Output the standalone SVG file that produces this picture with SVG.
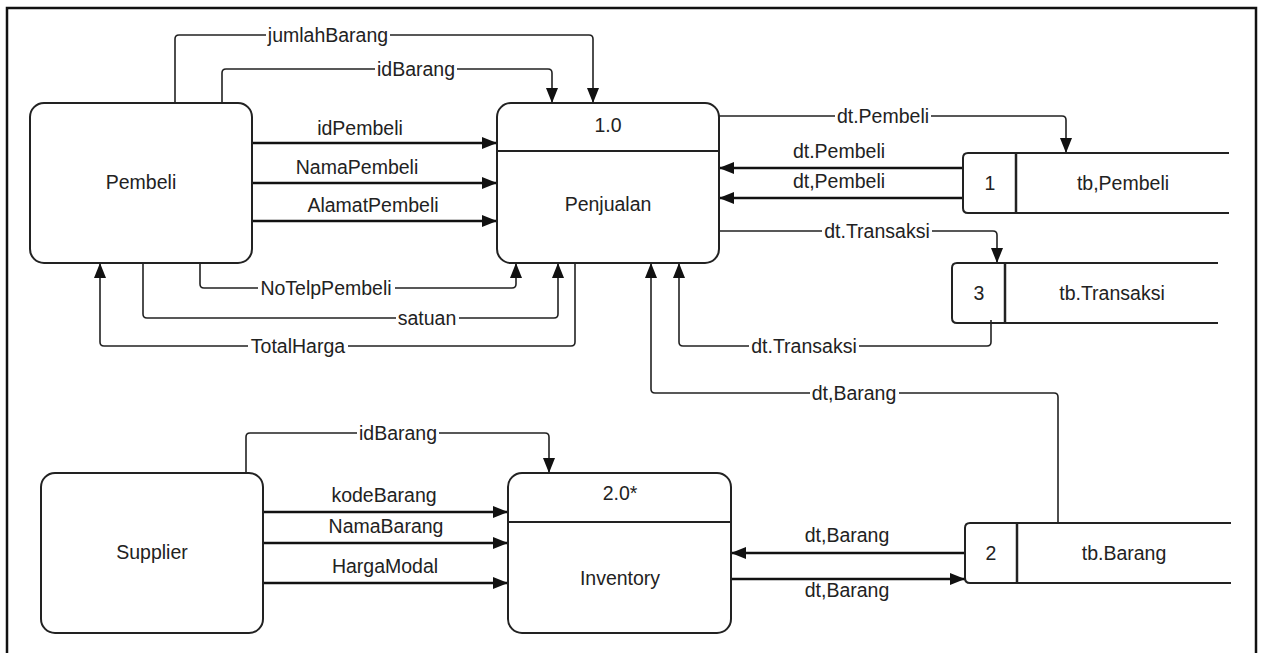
<svg xmlns="http://www.w3.org/2000/svg" width="1261" height="653" viewBox="0 0 1261 653">
<defs>
<style>
text{font-family:"Liberation Sans",Arial,sans-serif;font-size:19.5px;fill:#222;text-anchor:middle}
.bg{fill:#fff;stroke:none}
.box{fill:#fff;stroke:#222;stroke-width:2}
.div{stroke:#222;stroke-width:2}
.store{fill:none;stroke:#222;stroke-width:2}
.sdiv{stroke:#222;stroke-width:2.5}
.thin{fill:none;stroke:#222;stroke-width:1.6;stroke-linejoin:round}
.thick{fill:none;stroke:#111;stroke-width:2.6}
</style>
<marker id="ah" viewBox="0 0 15 12" refX="15" refY="6" markerWidth="15" markerHeight="12" markerUnits="userSpaceOnUse" orient="auto">
<path d="M0,0 L15,6 L0,12 Z" fill="#111"/>
</marker>
</defs>
<rect x="0" y="0" width="1261" height="653" fill="#fff"/>
<rect x="7" y="8" width="1249" height="670" fill="none" stroke="#111" stroke-width="2.5"/>

<g id="connectors">
<path class="thin" d="M175,103 V39 Q175,35 179,35 H589 Q593,35 593,39 V103" marker-end="url(#ah)"/>
<path class="thin" d="M222,103 V73 Q222,69 226,69 H548 Q552,69 552,73 V103" marker-end="url(#ah)"/>
<path class="thick" d="M252,143 H497" marker-end="url(#ah)"/>
<path class="thick" d="M252,183 H497" marker-end="url(#ah)"/>
<path class="thick" d="M252,221 H497" marker-end="url(#ah)"/>
<path class="thin" d="M200,263 V284 Q200,288 204,288 H512 Q516,288 516,284 V263" marker-end="url(#ah)"/>
<path class="thin" d="M143,263 V314 Q143,318 147,318 H554 Q558,318 558,314 V263" marker-end="url(#ah)"/>
<path class="thin" d="M575,263 V342 Q575,346 571,346 H104 Q100,346 100,342 V263" marker-end="url(#ah)"/>
<path class="thin" d="M719,116 H1062 Q1066,116 1066,120 V153" marker-end="url(#ah)"/>
<path class="thick" d="M963,168 H719" marker-end="url(#ah)"/>
<path class="thick" d="M963,198 H719" marker-end="url(#ah)"/>
<path class="thin" d="M719,231 H993 Q997,231 997,235 V263" marker-end="url(#ah)"/>
<path class="thin" d="M991,320 V342 Q991,346 987,346 H683 Q679,346 679,342 V263" marker-end="url(#ah)"/>
<path class="thin" d="M1058,523 V397 Q1058,393 1054,393 H655 Q651,393 651,389 V263" marker-end="url(#ah)"/>
<path class="thin" d="M246,473 V437 Q246,433 250,433 H545 Q549,433 549,437 V473" marker-end="url(#ah)"/>
<path class="thick" d="M263,512 H508" marker-end="url(#ah)"/>
<path class="thick" d="M263,543 H508" marker-end="url(#ah)"/>
<path class="thick" d="M263,583 H508" marker-end="url(#ah)"/>
<path class="thick" d="M965,553 H731" marker-end="url(#ah)"/>
<path class="thick" d="M731,579 H965" marker-end="url(#ah)"/>

<rect class="bg" x="266" y="26" width="124" height="18"/>
<text x="328" y="42">jumlahBarang</text>
<rect class="bg" x="375" y="60" width="82" height="18"/>
<text x="416" y="76">idBarang</text>
<text x="360" y="135">idPembeli</text>
<text x="357" y="174">NamaPembeli</text>
<text x="373" y="212">AlamatPembeli</text>
<rect class="bg" x="258" y="279" width="137" height="18"/>
<text x="326" y="295">NoTelpPembeli</text>
<rect class="bg" x="396" y="309" width="63" height="18"/>
<text x="427" y="325">satuan</text>
<rect class="bg" x="248" y="337" width="100" height="18"/>
<text x="298" y="353">TotalHarga</text>
<rect class="bg" x="835" y="107" width="96" height="18"/>
<text x="883" y="123">dt.Pembeli</text>
<text x="839" y="158">dt.Pembeli</text>
<text x="839" y="188">dt,Pembeli</text>
<rect class="bg" x="822" y="222" width="110" height="18"/>
<text x="877" y="238">dt.Transaksi</text>
<rect class="bg" x="749" y="337" width="110" height="18"/>
<text x="804" y="353">dt.Transaksi</text>
<rect class="bg" x="810" y="384" width="89" height="18"/>
<text x="854" y="400">dt,Barang</text>
<rect class="bg" x="357" y="424" width="82" height="18"/>
<text x="398" y="440">idBarang</text>
<text x="384" y="502">kodeBarang</text>
<text x="386" y="533">NamaBarang</text>
<text x="385" y="573">HargaModal</text>
<text x="847" y="542">dt,Barang</text>
<text x="847" y="597">dt,Barang</text>
</g>

<g id="pembeli">
<rect class="box" x="30" y="103" width="222" height="160" rx="14"/>
<text x="141" y="189">Pembeli</text>
</g>
<g id="penjualan">
<rect class="box" x="497" y="103" width="222" height="160" rx="14"/>
<line class="div" x1="497" y1="151" x2="719" y2="151"/>
<text x="608" y="132">1.0</text>
<text x="608" y="211">Penjualan</text>
</g>
<g id="supplier">
<rect class="box" x="41" y="473" width="222" height="160" rx="14"/>
<text x="152" y="559">Supplier</text>
</g>
<g id="inventory">
<rect class="box" x="508" y="473" width="223" height="160" rx="14"/>
<line class="div" x1="508" y1="522" x2="731" y2="522"/>
<text x="620" y="500">2.0*</text>
<text x="620" y="585">Inventory</text>
</g>
<g id="store1">
<path class="store" d="M1229,153 H968 Q963,153 963,158 V208 Q963,213 968,213 H1229"/>
<line class="sdiv" x1="1016" y1="153" x2="1016" y2="213"/>
<text x="990" y="190">1</text>
<text x="1123" y="190">tb,Pembeli</text>
</g>
<g id="store3">
<path class="store" d="M1218,263 H957 Q952,263 952,268 V318 Q952,323 957,323 H1218"/>
<line class="sdiv" x1="1005" y1="263" x2="1005" y2="323"/>
<text x="979" y="300">3</text>
<text x="1112" y="300">tb.Transaksi</text>
</g>
<g id="store2">
<path class="store" d="M1231,523 H970 Q965,523 965,528 V578 Q965,583 970,583 H1231"/>
<line class="sdiv" x1="1017" y1="523" x2="1017" y2="583"/>
<text x="991" y="560">2</text>
<text x="1124" y="560">tb.Barang</text>
</g>
</svg>
